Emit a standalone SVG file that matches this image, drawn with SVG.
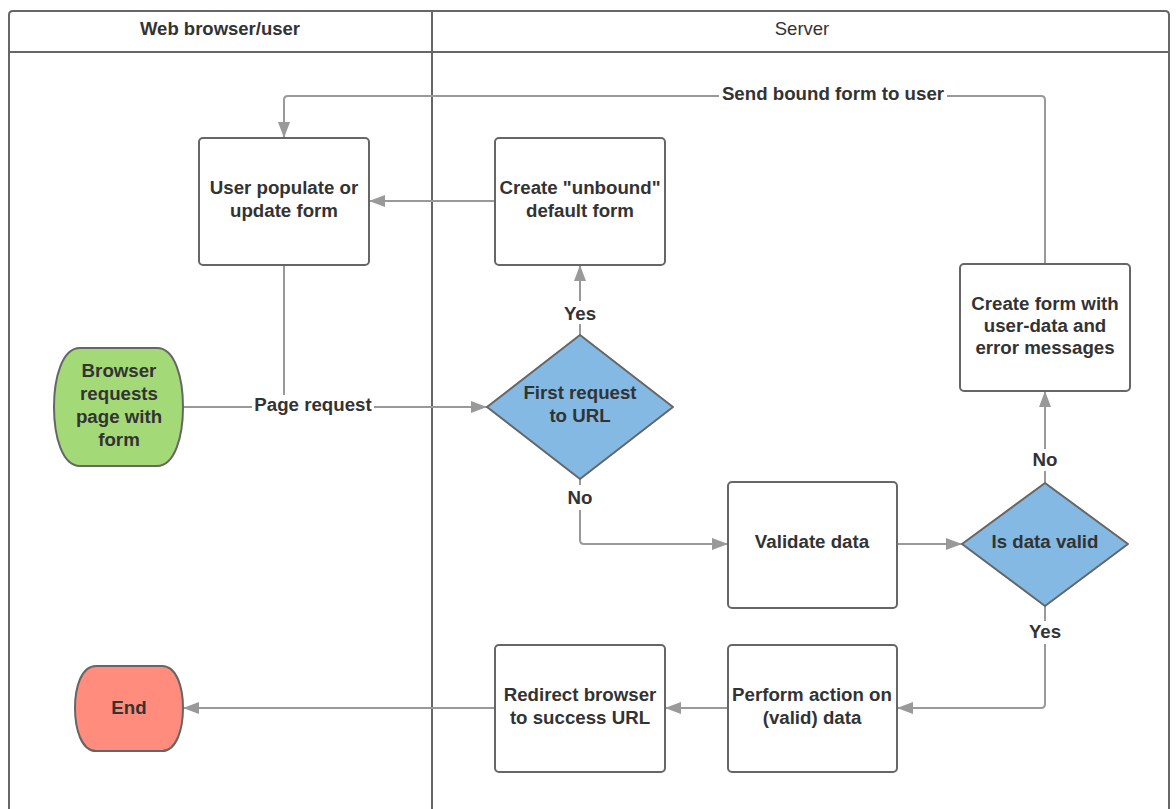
<svg xmlns="http://www.w3.org/2000/svg" width="1176" height="809" viewBox="0 0 1176 809">
  <defs>
    <style>
      .lane { fill: none; stroke: #666; stroke-width: 2; }
      .lane-title { font-family: "Liberation Sans", Arial, sans-serif; font-size: 18.5px; fill: #333; text-anchor: middle; }
      .box { fill: #fff; stroke: #666; stroke-width: 2; }
      .start { fill: #a3d977; stroke: #666; stroke-width: 2; }
      .end { fill: #ff8c7c; stroke: #666; stroke-width: 2; }
      .decision { fill: #83b9e3; stroke: #666; stroke-width: 2; stroke-linejoin: round; }
      .label { font-family: "Liberation Sans", Arial, sans-serif; font-weight: bold; font-size: 18.7px; fill: #333; text-anchor: middle; }
      .conn { fill: none; stroke: #999; stroke-width: 2; stroke-linejoin: round; }
      .conn-bg { fill: #fff; }
    </style>
    <marker id="arrow" markerUnits="userSpaceOnUse" markerWidth="16" markerHeight="12" refX="16" refY="6" orient="auto">
      <path d="M0,0 L16,6 L0,12 Z" fill="#999"/>
    </marker>
  </defs>

  <rect x="0" y="0" width="1176" height="809" fill="#fff"/>

  <!-- swimlane frame -->
  <g id="swimlanes">
    <path class="lane" d="M9,815 V15 Q9,11 13,11 H1165 Q1169,11 1169,15 V815"/>
    <line class="lane" x1="9" y1="52" x2="1169" y2="52"/>
    <line class="lane" x1="432" y1="11" x2="432" y2="815"/>
    <text class="lane-title" x="220" y="35" font-weight="bold">Web browser/user</text>
    <text class="lane-title" x="802" y="35">Server</text>
  </g>

  <!-- connectors -->
  <g id="connectors">
    <!-- Browser request -> First request decision -->
    <path class="conn" d="M184,407 H487" marker-end="url(#arrow)"/>
    <!-- User form -> page request -->
    <path class="conn" d="M284,265 V407"/>
    <!-- decision Yes -> create unbound form -->
    <path class="conn" d="M580,335 V265" marker-end="url(#arrow)"/>
    <!-- unbound form -> user form -->
    <path class="conn" d="M495,201 H369" marker-end="url(#arrow)"/>
    <!-- decision No -> validate -->
    <path class="conn" d="M580,479 V540 Q580,544 584,544 H728" marker-end="url(#arrow)"/>
    <!-- validate -> is data valid -->
    <path class="conn" d="M897,544 H962" marker-end="url(#arrow)"/>
    <!-- is data valid No -> create bound form -->
    <path class="conn" d="M1045,483 V391" marker-end="url(#arrow)"/>
    <!-- bound form -> user -->
    <path class="conn" d="M1045,264 V100 Q1045,96 1041,96 H288 Q284,96 284,100 V138" marker-end="url(#arrow)"/>
    <!-- is data valid Yes -> perform action -->
    <path class="conn" d="M1045,606 V704 Q1045,708 1041,708 H897" marker-end="url(#arrow)"/>
    <!-- perform action -> redirect -->
    <path class="conn" d="M728,708 H665" marker-end="url(#arrow)"/>
    <!-- redirect -> end -->
    <path class="conn" d="M495,708 H183" marker-end="url(#arrow)"/>

    <!-- connector labels -->
    <rect class="conn-bg" x="252" y="395" width="122" height="22"/>
    <text class="label" x="313" y="411">Page request</text>
    <rect class="conn-bg" x="719" y="84" width="228" height="22"/>
    <text class="label" x="833" y="100">Send bound form to user</text>
    <rect class="conn-bg" x="562" y="301" width="36" height="23"/>
    <text class="label" x="580" y="320">Yes</text>
    <rect class="conn-bg" x="565" y="485" width="30" height="25"/>
    <text class="label" x="580" y="504">No</text>
    <rect class="conn-bg" x="1030" y="449" width="30" height="22"/>
    <text class="label" x="1045" y="466">No</text>
    <rect class="conn-bg" x="1027" y="621" width="36" height="23"/>
    <text class="label" x="1045" y="638">Yes</text>
  </g>

  <!-- nodes -->
  <g id="node-browser-request">
    <path class="start" d="M80,348 H157 C175,348 183,378 183,407 C183,436 175,466 157,466 H80 C62,466 54,436 54,407 C54,378 62,348 80,348 Z"/>
    <text class="label" x="119" y="377">Browser</text>
    <text class="label" x="119" y="400">requests</text>
    <text class="label" x="119" y="423">page with</text>
    <text class="label" x="119" y="446">form</text>
  </g>

  <g id="node-user-form">
    <rect class="box" x="199" y="138" width="170" height="127" rx="4"/>
    <text class="label" x="284" y="194">User populate or</text>
    <text class="label" x="284" y="217">update form</text>
  </g>

  <g id="node-unbound-form">
    <rect class="box" x="495" y="138" width="170" height="127" rx="4"/>
    <text class="label" x="580" y="194">Create "unbound"</text>
    <text class="label" x="580" y="217">default form</text>
  </g>

  <g id="node-first-request">
    <path class="decision" d="M580,335 L673,407 L580,479 L487,407 Z"/>
    <text class="label" x="580" y="399">First request</text>
    <text class="label" x="580" y="422">to URL</text>
  </g>

  <g id="node-bound-form">
    <rect class="box" x="960" y="264" width="170" height="127" rx="4"/>
    <text class="label" x="1045" y="310">Create form with</text>
    <text class="label" x="1045" y="332">user-data and</text>
    <text class="label" x="1045" y="354">error messages</text>
  </g>

  <g id="node-validate">
    <rect class="box" x="728" y="482" width="169" height="126" rx="4"/>
    <text class="label" x="812" y="548">Validate data</text>
  </g>

  <g id="node-data-valid">
    <path class="decision" d="M1045,483 L1128,544 L1045,606 L962,544 Z"/>
    <text class="label" x="1045" y="548">Is data valid</text>
  </g>

  <g id="node-perform-action">
    <rect class="box" x="728" y="645" width="169" height="127" rx="4"/>
    <text class="label" x="812" y="701">Perform action on</text>
    <text class="label" x="812" y="724">(valid) data</text>
  </g>

  <g id="node-redirect">
    <rect class="box" x="495" y="645" width="170" height="127" rx="4"/>
    <text class="label" x="580" y="701">Redirect browser</text>
    <text class="label" x="580" y="724">to success URL</text>
  </g>

  <g id="node-end">
    <path class="end" d="M96,666 H162 C177,666 183,688 183,708 C183,728 177,751 162,751 H96 C81,751 75,728 75,708 C75,688 81,666 96,666 Z"/>
    <text class="label" x="129" y="714">End</text>
  </g>
</svg>
